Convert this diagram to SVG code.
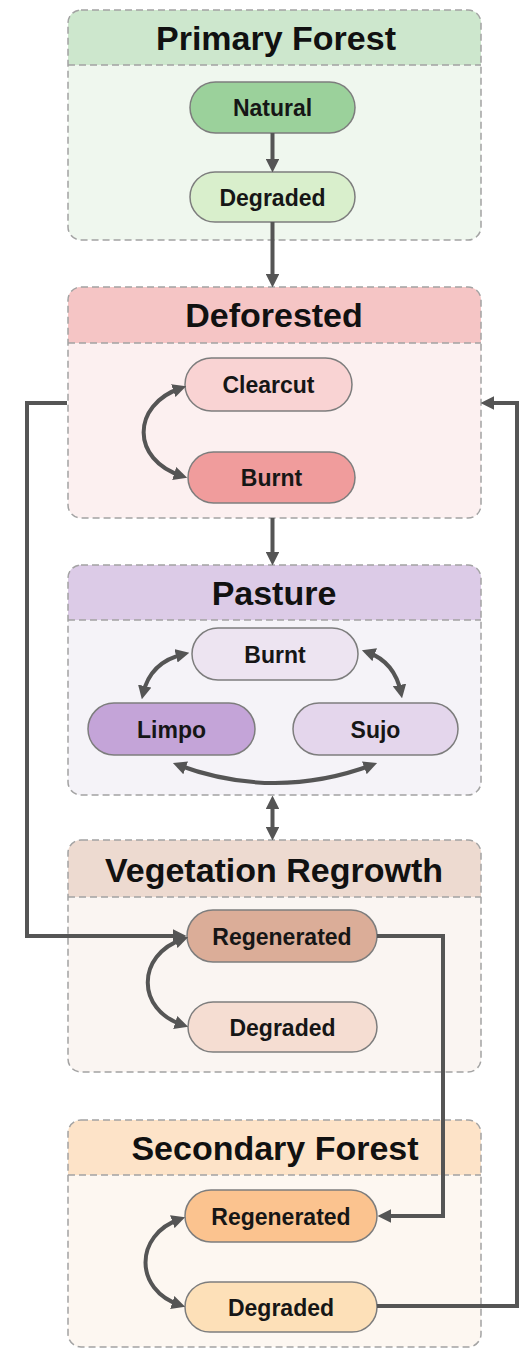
<svg xmlns="http://www.w3.org/2000/svg" width="522" height="1349" viewBox="0 0 522 1349">
<style>
.box{stroke:#a3a3a3;stroke-width:1.5;stroke-dasharray:7 4}
.div{stroke:#a3a3a3;stroke-width:1.5;stroke-dasharray:7 4;fill:none}
.title{font-family:"Liberation Sans",Arial,sans-serif;font-weight:bold;font-size:34px;fill:#111;text-anchor:middle}
.node{stroke:#7d7d7d;stroke-width:1.5}
.lbl{font-family:"Liberation Sans",Arial,sans-serif;font-weight:bold;font-size:23px;fill:#161616;text-anchor:middle}
.con{fill:none;stroke:#555;stroke-width:4}
</style>
<defs>
<marker id="ah" viewBox="0 0 10 10" refX="6" refY="5" markerWidth="3.4" markerHeight="3.4" orient="auto-start-reverse" markerUnits="strokeWidth">
<path d="M0,0 L10,5 L0,10 z" fill="#555"/>
</marker>
<clipPath id="c1"><rect x="68" y="10" width="413" height="230" rx="13"/></clipPath>
<clipPath id="c2"><rect x="68" y="287" width="413" height="231" rx="13"/></clipPath>
<clipPath id="c3"><rect x="68" y="565" width="413" height="230" rx="13"/></clipPath>
<clipPath id="c4"><rect x="68" y="840" width="413" height="232" rx="13"/></clipPath>
<clipPath id="c5"><rect x="68" y="1120" width="413" height="227" rx="13"/></clipPath>
</defs>

<g id="primary-forest">
<rect x="68" y="10" width="413" height="230" rx="13" fill="#eff7ee"/>
<rect x="68" y="10" width="413" height="55" fill="#cde7cd" clip-path="url(#c1)"/>
<rect class="box" x="68" y="10" width="413" height="230" rx="13" fill="none"/>
<line class="div" x1="68" y1="65" x2="481" y2="65"/>
<text class="title" x="276" y="50">Primary Forest</text>
</g>
<g id="pf-natural">
<rect class="node" x="190" y="82" width="165" height="51" rx="25.5" fill="#9bd19b"/>
<text class="lbl" x="272.5" y="116">Natural</text>
</g>
<g id="pf-degraded">
<rect class="node" x="190" y="172" width="165" height="50" rx="25" fill="#d9efcc"/>
<text class="lbl" x="272.5" y="205.5">Degraded</text>
</g>

<g id="deforested">
<rect x="68" y="287" width="413" height="231" rx="13" fill="#fcf0f0"/>
<rect x="68" y="287" width="413" height="56" fill="#f5c5c5" clip-path="url(#c2)"/>
<rect class="box" x="68" y="287" width="413" height="231" rx="13" fill="none"/>
<line class="div" x1="68" y1="343" x2="481" y2="343"/>
<text class="title" x="274" y="327">Deforested</text>
</g>
<g id="df-clearcut">
<rect class="node" x="185" y="358" width="167" height="53" rx="26.5" fill="#f9d3d3"/>
<text class="lbl" x="268.5" y="393">Clearcut</text>
</g>
<g id="df-burnt">
<rect class="node" x="188" y="452" width="167" height="51" rx="25.5" fill="#f09c9c"/>
<text class="lbl" x="271.5" y="486">Burnt</text>
</g>

<g id="pasture">
<rect x="68" y="565" width="413" height="230" rx="13" fill="#f5f3f8"/>
<rect x="68" y="565" width="413" height="55" fill="#dccbe7" clip-path="url(#c3)"/>
<rect class="box" x="68" y="565" width="413" height="230" rx="13" fill="none"/>
<line class="div" x1="68" y1="620" x2="481" y2="620"/>
<text class="title" x="274" y="605">Pasture</text>
</g>
<g id="pa-burnt">
<rect class="node" x="192" y="628" width="166" height="52" rx="26" fill="#ede4f1"/>
<text class="lbl" x="275" y="662.5">Burnt</text>
</g>
<g id="pa-limpo">
<rect class="node" x="88" y="703" width="167" height="52" rx="26" fill="#c4a4d8"/>
<text class="lbl" x="171.5" y="737.5">Limpo</text>
</g>
<g id="pa-sujo">
<rect class="node" x="293" y="703" width="165" height="52" rx="26" fill="#e4d6ec"/>
<text class="lbl" x="375.5" y="737.5">Sujo</text>
</g>

<g id="vegetation-regrowth">
<rect x="68" y="840" width="413" height="232" rx="13" fill="#faf5f2"/>
<rect x="68" y="840" width="413" height="57" fill="#eddad0" clip-path="url(#c4)"/>
<rect class="box" x="68" y="840" width="413" height="232" rx="13" fill="none"/>
<line class="div" x1="68" y1="897" x2="481" y2="897"/>
<text class="title" x="274" y="882">Vegetation Regrowth</text>
</g>
<g id="vr-regenerated">
<rect class="node" x="187" y="910" width="190" height="52" rx="26" fill="#dbad98"/>
<text class="lbl" x="282" y="944.5">Regenerated</text>
</g>
<g id="vr-degraded">
<rect class="node" x="188" y="1002" width="189" height="50" rx="25" fill="#f5ddd2"/>
<text class="lbl" x="282.5" y="1035.5">Degraded</text>
</g>

<g id="secondary-forest">
<rect x="68" y="1120" width="413" height="227" rx="13" fill="#fdf7f1"/>
<rect x="68" y="1120" width="413" height="55" fill="#fde3c8" clip-path="url(#c5)"/>
<rect class="box" x="68" y="1120" width="413" height="227" rx="13" fill="none"/>
<line class="div" x1="68" y1="1175" x2="481" y2="1175"/>
<text class="title" x="275" y="1160">Secondary Forest</text>
</g>
<g id="sf-regenerated">
<rect class="node" x="185" y="1190" width="192" height="52" rx="26" fill="#fbc38f"/>
<text class="lbl" x="281" y="1224.5">Regenerated</text>
</g>
<g id="sf-degraded">
<rect class="node" x="185" y="1282" width="192" height="50" rx="25" fill="#fde0b8"/>
<text class="lbl" x="281" y="1315.5">Degraded</text>
</g>

<g id="connectors">
<path class="con" d="M272.5,133 V167" marker-end="url(#ah)"/>
<path class="con" d="M272.5,222 V282" marker-end="url(#ah)"/>
<path class="con" d="M272.5,518 V560" marker-end="url(#ah)"/>
<path class="con" d="M272.5,801 V835" marker-start="url(#ah)" marker-end="url(#ah)"/>
<path class="con" d="M181,388 C131,405 131,460 182,476" marker-start="url(#ah)" marker-end="url(#ah)"/>
<path class="con" d="M183,939 C136,955 136,1010 183,1025" marker-start="url(#ah)" marker-end="url(#ah)"/>
<path class="con" d="M180,1219 C134,1235 134,1290 180,1305" marker-start="url(#ah)" marker-end="url(#ah)"/>
<path class="con" d="M184,654 Q150,662 143,694" marker-start="url(#ah)" marker-end="url(#ah)"/>
<path class="con" d="M367,652 Q395,662 401,693" marker-start="url(#ah)" marker-end="url(#ah)"/>
<path class="con" d="M178,765 Q275,801 372,765" marker-start="url(#ah)" marker-end="url(#ah)"/>
<path class="con" d="M67,403 H27 V936 H181" marker-end="url(#ah)"/>
<path class="con" d="M377,936 H443 V1216 H383" marker-end="url(#ah)"/>
<path class="con" d="M377,1306 H517 V403 H486" marker-end="url(#ah)"/>
</g>
</svg>
